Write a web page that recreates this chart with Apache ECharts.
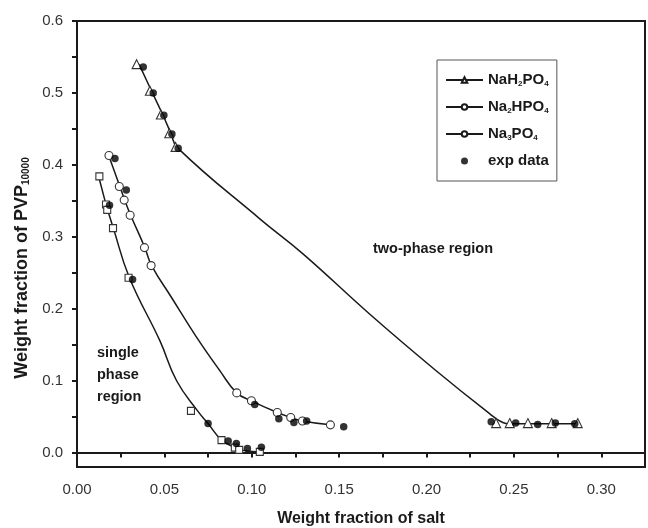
<!DOCTYPE html>
<html><head><meta charset="utf-8">
<script src="https://cdn.jsdelivr.net/npm/echarts@6/dist/echarts.min.js"></script>
<style>html,body{margin:0;padding:0;background:#fff}#c{width:648px;height:528px}</style>
</head><body><div id="c"></div>
<script>
// axis ticks and labels
const xTicks = [0, 0.025, 0.05, 0.075, 0.10, 0.125, 0.15, 0.175, 0.20, 0.225, 0.25, 0.275, 0.30, 0.325];
const xLabels = [0, 0.05, 0.10, 0.15, 0.20, 0.25, 0.30];
const yTicks = [0, 0.05, 0.10, 0.15, 0.20, 0.25, 0.30, 0.35, 0.40, 0.45, 0.50, 0.55, 0.60];
const yLabels = [0, 0.1, 0.2, 0.3, 0.4, 0.5, 0.6];

// NaH2PO4 model curve and model points
const nah2CurveX = [0.0355, 0.0428, 0.0490, 0.0537, 0.0574, 0.1046, 0.1293, 0.1674, 0.2055, 0.2341, 0.2436, 0.2476, 0.2580, 0.2716, 0.2865];
const nah2CurveY = [0.540, 0.502, 0.470, 0.444, 0.424, 0.325, 0.2763, 0.1927, 0.1138, 0.058, 0.0418, 0.040, 0.040, 0.040, 0.040];
const nah2PtsX = [0.0341, 0.0417, 0.0480, 0.0528, 0.0564, 0.2398, 0.2476, 0.2580, 0.2716, 0.2865];
const nah2PtsY = [0.540, 0.503, 0.470, 0.444, 0.425, 0.041, 0.041, 0.041, 0.041, 0.041];

// Na2HPO4
const na2hCurveX = [0.0186, 0.0245, 0.0273, 0.0307, 0.0388, 0.0427, 0.0540, 0.0680, 0.0820, 0.0914, 0.0998, 0.1146, 0.1223, 0.1290, 0.1450];
const na2hCurveY = [0.410, 0.370, 0.351, 0.330, 0.285, 0.260, 0.216, 0.162, 0.113, 0.083, 0.072, 0.0557, 0.0488, 0.044, 0.0386];
const na2hPtsX = [0.0183, 0.0242, 0.0270, 0.0304, 0.0386, 0.0424, 0.0914, 0.0998, 0.1146, 0.1223, 0.1290, 0.1450];
const na2hPtsY = [0.413, 0.370, 0.351, 0.330, 0.285, 0.260, 0.083, 0.072, 0.0557, 0.0488, 0.044, 0.0386];

// Na3PO4
const na3CurveX = [0.0128, 0.0166, 0.0175, 0.0208, 0.0300, 0.0474, 0.0570, 0.0690, 0.0750, 0.0827, 0.0903, 0.0928, 0.1046];
const na3CurveY = [0.380, 0.345, 0.3375, 0.312, 0.243, 0.1556, 0.0999, 0.058, 0.0404, 0.0173, 0.007, 0.0038, 0.001];
const na3PtsX = [0.0128, 0.0166, 0.0173, 0.0206, 0.0295, 0.0652, 0.0827, 0.0903, 0.0928, 0.1046];
const na3PtsY = [0.384, 0.345, 0.3375, 0.312, 0.243, 0.058, 0.0173, 0.007, 0.0038, 0.001];

// experimental data
const expX = [0.0379, 0.0436, 0.0497, 0.0543, 0.0579, 0.2370, 0.2510, 0.2636, 0.2737, 0.2848,
              0.0217, 0.0282, 0.1017, 0.1155, 0.1241, 0.1314, 0.1526,
              0.0186, 0.0318, 0.0750, 0.0865, 0.0912, 0.0975, 0.1055];
const expY = [0.536, 0.500, 0.469, 0.443, 0.423, 0.043, 0.041, 0.039, 0.041, 0.040,
              0.409, 0.365, 0.067, 0.047, 0.042, 0.044, 0.036,
              0.344, 0.2405, 0.0404, 0.0163, 0.0128, 0.0058, 0.0075];

const seriesNames = ['NaH2PO4', 'Na2HPO4', 'Na3PO4', 'exp data'];

const zip = (xs, ys) => xs.map((x, i) => [x, ys[i]]);
const ink = '#1a1a1a';

function curve(name, xs, ys, legendSymbol) {
  return {
    name, type: 'line', data: zip(xs, ys), showSymbol: false, symbol: legendSymbol,
    smooth: 0.45, silent: true,
    lineStyle: { color: ink, width: 1.5 }, itemStyle: { color: ink }, z: 2
  };
}
function pts(name, xs, ys, sym, size) {
  return {
    name, type: 'scatter', data: zip(xs, ys), symbol: sym, symbolSize: size, silent: true,
    itemStyle: { color: '#fff', borderColor: '#333', borderWidth: 1.1, opacity: 1 }, z: 3
  };
}

const chart = echarts.init(document.getElementById('c'), null, { renderer: 'canvas' });
const fontFam = '"Liberation Sans", Arial, sans-serif';
chart.setOption({
  animation: false,
  backgroundColor: '#fff',
  textStyle: { fontFamily: fontFam },
  grid: { left: 77, right: 3, top: 21, bottom: 61, show: true, borderColor: ink, borderWidth: 2,
          containLabel: false, outerBoundsMode: 'none' },
  xAxis: {
    type: 'value', min: 0, max: 0.325,
    name: 'Weight fraction of salt', nameLocation: 'middle', nameGap: 44,
    nameTextStyle: { fontSize: 16, fontWeight: 'bold', color: ink, fontFamily: fontFam },
    axisLine: { show: true, lineStyle: { color: ink, width: 2 } },
    axisTick: { show: true, inside: false, length: 5, customValues: xTicks, lineStyle: { color: ink, width: 2 } },
    axisLabel: { customValues: xLabels, formatter: v => v.toFixed(2), fontSize: 15, color: '#333', margin: 15, fontFamily: fontFam },
    splitLine: { show: false }
  },
  yAxis: {
    type: 'value', min: -0.02, max: 0.6,
    name: 'Weight fraction of PVP{s|10000}', nameLocation: 'middle', nameGap: 38, nameRotate: 90,
    nameTextStyle: { fontSize: 18, fontWeight: 'bold', color: ink, fontFamily: fontFam, padding: [0, 48, 0, 0],
      rich: { s: { fontSize: 10, fontWeight: 'bold', verticalAlign: 'bottom', lineHeight: 10, color: ink } } },
    axisLine: { show: true, lineStyle: { color: ink, width: 2 } },
    axisTick: { show: true, inside: false, length: 5, customValues: yTicks, lineStyle: { color: ink, width: 2 } },
    axisLabel: { customValues: yLabels, formatter: v => v.toFixed(1), fontSize: 15, color: '#333', margin: 14, fontFamily: fontFam },
    splitLine: { show: false }
  },
  legend: {
    data: seriesNames, orient: 'vertical', left: 437, top: 60,
    padding: [12, 8, 12, 8], itemWidth: 37, itemHeight: 7, itemGap: 11,
    borderColor: '#555', borderWidth: 1, selectedMode: false,
    formatter: n => n.replace(/(\d+)/g, '{s|$1}'),
    textStyle: { fontSize: 15, fontWeight: 'bold', color: ink, lineHeight: 16, fontFamily: fontFam,
      rich: { s: { fontSize: 8, fontWeight: 'bold', verticalAlign: 'bottom', lineHeight: 8, color: ink } } }
  },
  graphic: [
    { type: 'text', left: 373, top: 241, silent: true,
      style: { text: 'two-phase region', fontSize: 14.5, fontWeight: 'bold', fill: ink, fontFamily: fontFam } },
    { type: 'text', left: 97, top: 342, silent: true,
      style: { text: 'single\nphase\nregion', fontSize: 14.5, fontWeight: 'bold', fill: ink, lineHeight: 22, fontFamily: fontFam } }
  ],
  series: [
    curve('NaH2PO4', nah2CurveX, nah2CurveY, 'emptyTriangle'),
    curve('Na2HPO4', na2hCurveX, na2hCurveY, 'emptyCircle'),
    curve('Na3PO4', na3CurveX, na3CurveY, 'emptyCircle'),
    pts('NaH2PO4', nah2PtsX, nah2PtsY, 'triangle', 9),
    pts('Na2HPO4', na2hPtsX, na2hPtsY, 'circle', 8),
    pts('Na3PO4', na3PtsX, na3PtsY, 'rect', 7),
    { name: 'exp data', type: 'scatter', data: zip(expX, expY), symbol: 'circle', symbolSize: 7.5, silent: true,
      itemStyle: { color: '#000' }, z: 4 }
  ]
});
</script>
</body></html>
